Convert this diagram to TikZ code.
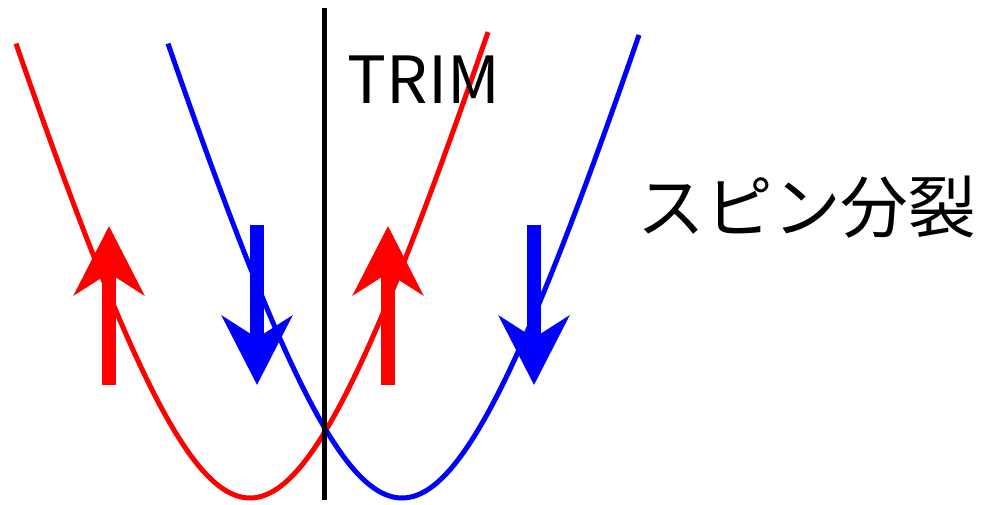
\documentclass[tikz,border=0pt]{standalone}
\usepackage{fontspec}
\setmainfont{Noto Sans CJK JP}
\usetikzlibrary{arrows.meta}
\definecolor{spinred}{RGB}{255,0,0}
\definecolor{spinblue}{RGB}{0,0,255}

\begin{document}
\begin{tikzpicture}[
  x=0.02cm, y=-0.02cm,
  band/.style={line width=0.1cm},
  spin/.style={line width=0.28cm, -{Stealth[length=1.38cm, width=1.4cm, inset=0.44cm]}},
  lbl/.style={font=\fontsize{37}{40}\selectfont, inner sep=0pt}
]
  \useasboundingbox (0,0) rectangle (984,504);

  % spin-split bands
  \draw[band, spinred] plot[domain=-234:238, samples=120] ({250+\x}, {498-33*(sqrt(169+(\x/10)^2)-13)});
  \draw[band, spinblue] plot[domain=-234:237, samples=120] ({402+\x}, {498-33*(sqrt(169+(\x/10)^2)-13)});

  % TRIM line
  \coordinate (ktop) at (324,8);
  \coordinate (kbot) at (324,500);
  \draw[band] (ktop) -- (kbot);

  % spins
  \draw[spin, spinred] (109,385) -- (109,226);
  \draw[spin, spinblue] (257,225) -- (257,385);
  \draw[spin, spinred] (388,385) -- (388,226);
  \draw[spin, spinblue] (534,225) -- (534,385);

  \node[lbl] (trim) at (424,80) {TRIM};
  \node[lbl, font=\fontsize{38.5}{42}\selectfont] (split) at (807,207) {スピン分裂};
\end{tikzpicture}
\end{document}
